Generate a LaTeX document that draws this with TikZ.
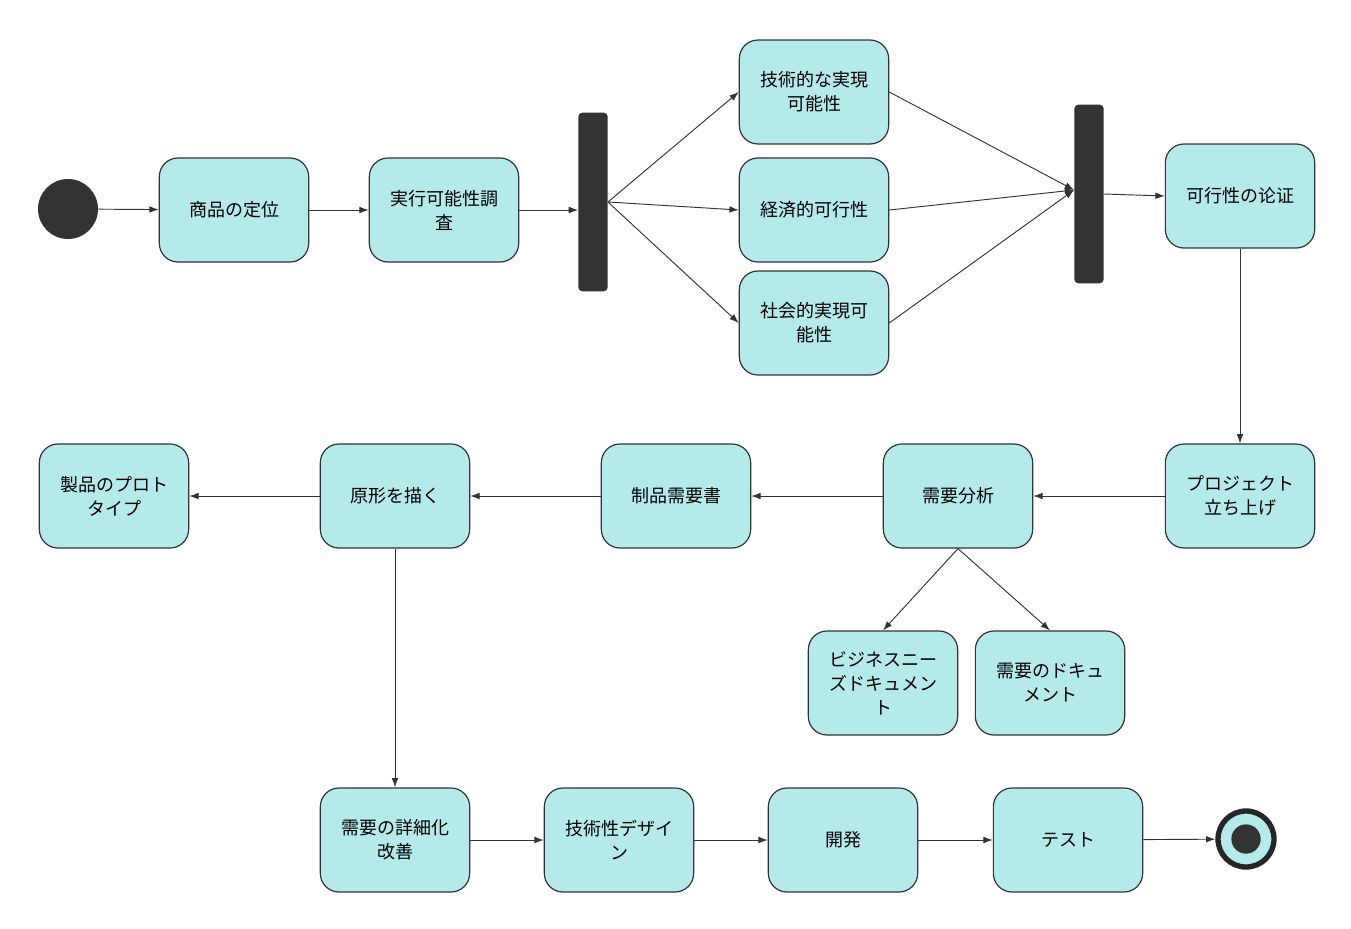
\documentclass[tikz,border=0pt]{standalone}
\usepackage{fontspec}
\newfontfamily\cjk{Noto Sans CJK JP}
\usetikzlibrary{arrows.meta}
\definecolor{boxfill}{RGB}{181,234,234}
\begin{document}
\begin{tikzpicture}[x=0.75pt,y=-0.75pt,
  box/.style={draw=black!80,fill=boxfill,rounded corners=14pt,minimum width=112pt,minimum height=78pt,line width=0.9pt,align=center,font=\cjk\fontsize{13.5}{18}\selectfont,inner sep=2pt},
  bar/.style={fill=black!80,rounded corners=3pt,minimum width=22pt,minimum height=134pt,inner sep=0pt},
  arr/.style={-{Latex[length=7pt,width=5pt]},black!80,line width=0.7pt}]
\useasboundingbox (0,0) rectangle (1351,928);
\fill[white] (0,0) rectangle (1351,928);
\node[circle,fill=black!80,minimum size=45pt,inner sep=0pt] (s) at (68,209) {};
\node[box] (a) at (234,210) {商品の定位};
\node[box] (b) at (444,210) {実行可能性調\\査};
\node[bar] (b1) at (593,202) {};
\node[box] (t1) at (814,92) {技術的な実現\\可能性};
\node[box] (t2) at (814,210) {経済的可行性};
\node[box] (t3) at (814,323) {社会的実現可\\能性};
\node[bar] (b2) at (1089,194) {};
\node[box] (c) at (1240,196) {可行性の论证};
\node[box] (d) at (1240,496) {プロジェクト\\立ち上げ};
\node[box] (e) at (958,496) {需要分析};
\node[box] (f) at (676,496) {制品需要書};
\node[box] (g) at (395,496) {原形を描く};
\node[box] (h) at (114,496) {製品のプロト\\タイプ};
\node[box] (i) at (883,683) {ビジネスニー\\ズドキュメン\\ト};
\node[box] (j) at (1050,683) {需要のドキュ\\メント};
\node[box] (k) at (395,840) {需要の詳細化\\改善};
\node[box] (l) at (619,840) {技術性デザイ\\ン};
\node[box] (m) at (843,840) {開発};
\node[box] (n) at (1068,840) {テスト};
\node[circle,draw=black!85,line width=4pt,fill=boxfill,minimum size=42pt,inner sep=0pt] (z) at (1246,839) {};
\fill[black!80] (z.center) circle (11pt);
\draw[arr] (s) -- (a);
\draw[arr] (a) -- (b);
\draw[arr] (b) -- (b1.west|-b);
\draw[arr] (b1.east) -- (t1.west);
\draw[arr] (b1.east) -- (t2.west);
\draw[arr] (b1.east) -- (t3.west);
\draw[arr] (t1.east) -- ([yshift=3pt]b2.west);
\draw[arr] (t2.east) -- ([yshift=3pt]b2.west);
\draw[arr] (t3.east) -- ([yshift=3pt]b2.west);
\draw[arr] (b2.east) -- (c.west);
\draw[arr] (c) -- (d);
\draw[arr] (d) -- (e);
\draw[arr] (e) -- (f);
\draw[arr] (f) -- (g);
\draw[arr] (g) -- (h);
\draw[arr] (e.south) -- (i.north);
\draw[arr] (e.south) -- (j.north);
\draw[arr] (g) -- (k);
\draw[arr] (k) -- (l);
\draw[arr] (l) -- (m);
\draw[arr] (m) -- (n);
\draw[arr] (n) -- (z);
\end{tikzpicture}
\end{document}
